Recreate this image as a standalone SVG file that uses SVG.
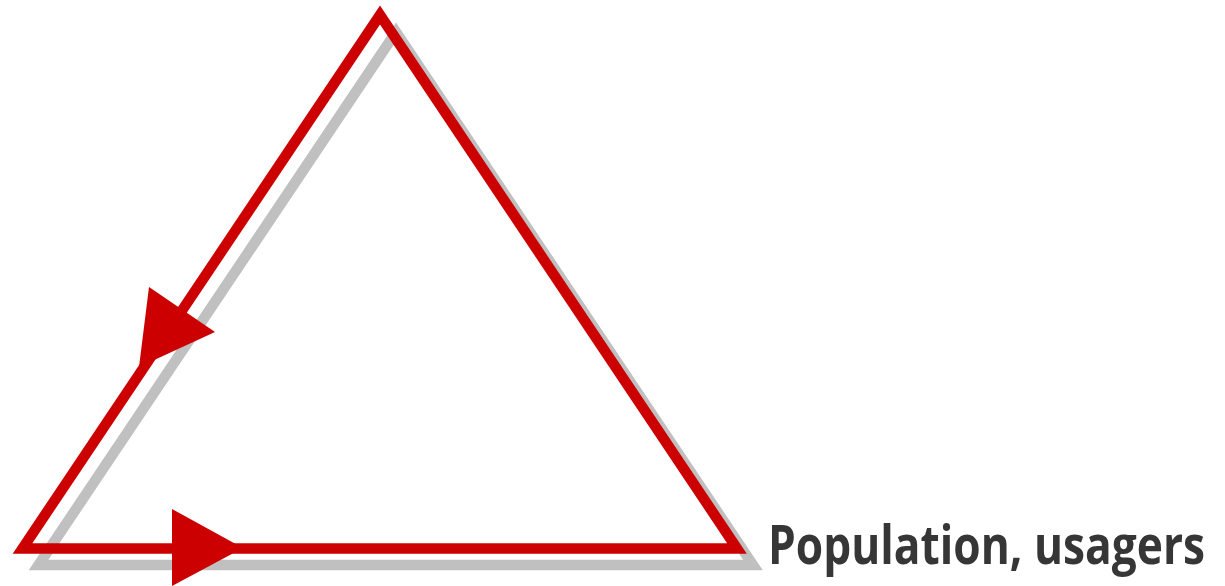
<svg xmlns="http://www.w3.org/2000/svg" width="1225" height="586" viewBox="0 0 1225 586">
<style>
.tri{fill:none;stroke-width:10.5;stroke-linejoin:miter;stroke-miterlimit:10}
.shadow{stroke:#c0c0c0}
.red{stroke:#cc0000}
.head{fill:#cc0000}
.lbl{font-family:"Open Sans","Liberation Sans",sans-serif;font-weight:700;font-size:54px;fill:#363636}
</style>
<rect width="1225" height="586" fill="#ffffff"/>
<g id="triangle-shadow">
<polygon class="tri shadow" points="396,32 38.5,565 753,565"/>
</g>
<g id="triangle">
<polygon class="tri red" points="380,15 22.5,548.5 737,548.5"/>
</g>
<g id="connectors">
<polygon class="head" points="149,287 215,332 139,367"/>
<polygon class="head" points="172,509 172,586 243,548"/>
</g>
<g id="label">
<text class="lbl" x="768" y="564" textLength="437" lengthAdjust="spacingAndGlyphs">Population, usagers</text>
</g>
</svg>
